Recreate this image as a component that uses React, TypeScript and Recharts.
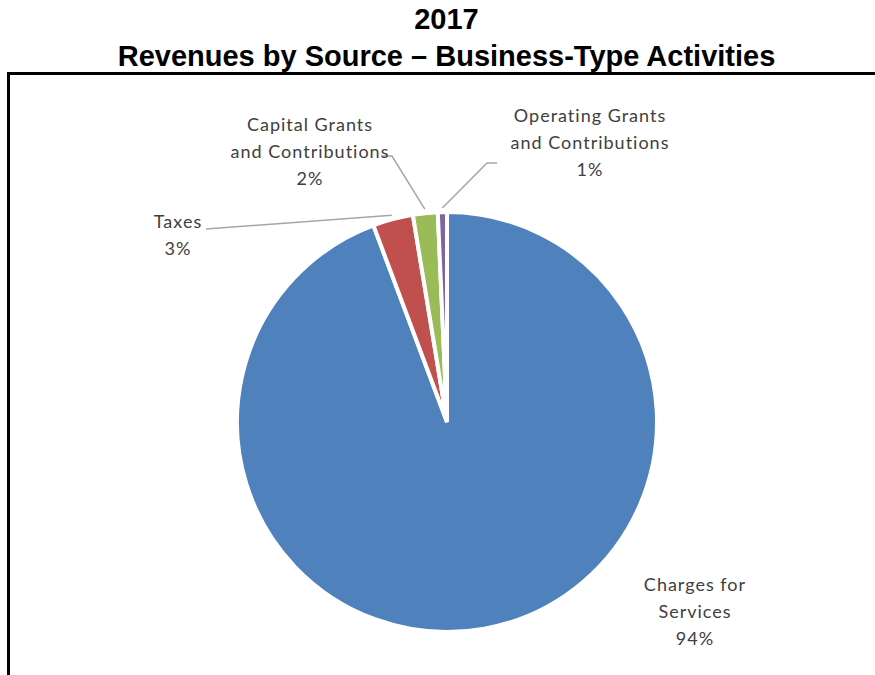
import { PieChart, Pie, Cell } from 'recharts'

// ── Data ─────────────────────────────────────────────────
const SOURCES = [
  'Charges for Services',
  'Taxes',
  'Capital Grants and Contributions',
  'Operating Grants and Contributions',
]
const SHARES = [94.3, 3.1, 1.9, 0.7]
const PCT_LABELS = ['94%', '3%', '2%', '1%']
const LABEL_LINES = [
  ['Charges for', 'Services'],
  ['Taxes'],
  ['Capital Grants', 'and Contributions'],
  ['Operating Grants', 'and Contributions'],
]

// ── Palette ──────────────────────────────────────────────
const COLORS = ['#4f81bd', '#c0504d', '#9bbb59', '#8064a2']
const TEXT = '#404040'
const LEADER = '#a6a6a6'

// label placement (text centre x, first baseline y, leader elbow points)
const LAYOUT = [
  { x: 695, y: 591, leader: null as null | number[][] },
  { x: 178, y: 228, leader: [[206, 229]] },
  { x: 310, y: 131, leader: [[381, 156], [392, 156]] },
  { x: 590, y: 122, leader: [[497, 163], [487, 163]] },
]

const data = SOURCES.map((name, i) => ({ name, value: SHARES[i] }))
const RAD = Math.PI / 180

function SliceLabel(props: any) {
  const { cx, cy, midAngle, outerRadius, index } = props
  const lay = LAYOUT[index]
  const ax = cx + (outerRadius + 4) * Math.cos(-midAngle * RAD)
  const ay = cy + (outerRadius + 4) * Math.sin(-midAngle * RAD)
  const lines = [...LABEL_LINES[index], PCT_LABELS[index]]
  return (
    <g>
      {lay.leader && (
        <polyline
          points={[...lay.leader, [ax, ay]].map(p => p.join(',')).join(' ')}
          fill="none" stroke={LEADER} strokeWidth={1.5}
        />
      )}
      <text x={lay.x} y={lay.y} textAnchor="middle" fill={TEXT}
        fontFamily="Lato, 'Open Sans', sans-serif" fontSize={18} letterSpacing={1}>
        {lines.map((l, i) => (
          <tspan key={i} x={lay.x} dy={i === 0 ? 0 : 27}>{l}</tspan>
        ))}
      </text>
    </g>
  )
}

export default function App() {
  return (
    <div style={{ position: 'relative', width: 875, height: 675, background: '#fff', overflow: 'hidden' }}>
      <style>{'body{margin:0}'}</style>
      <div style={{
        position: 'absolute', left: 0, top: 1, width: 875, textAlign: 'center',
        fontFamily: "'Liberation Sans', Arial, sans-serif", fontWeight: 700, fontSize: 29,
        lineHeight: '37px', color: '#000',
      }}>
        <div style={{ paddingLeft: 18 }}>2017</div>
        <div style={{ paddingLeft: 18 }}>Revenues by Source – Business-Type Activities</div>
      </div>
      <div style={{
        position: 'absolute', left: 7, top: 72, width: 900, height: 700,
        borderLeft: '3px solid #000', borderTop: '3px solid #000',
      }} />
      <div style={{ position: 'absolute', left: 0, top: 0 }}>
        <PieChart width={875} height={675} margin={{ top: 0, right: 0, bottom: 0, left: 0 }}>
          <Pie
            data={data}
            dataKey="value"
            nameKey="name"
            cx={447}
            cy={422}
            outerRadius={210}
            startAngle={90}
            endAngle={-270}
            stroke="#fff"
            strokeWidth={4}
            label={SliceLabel}
            labelLine={false}
            isAnimationActive={false}
          >
            {data.map((d, i) => (
              <Cell key={d.name} fill={COLORS[i]} />
            ))}
          </Pie>
        </PieChart>
      </div>
    </div>
  )
}
